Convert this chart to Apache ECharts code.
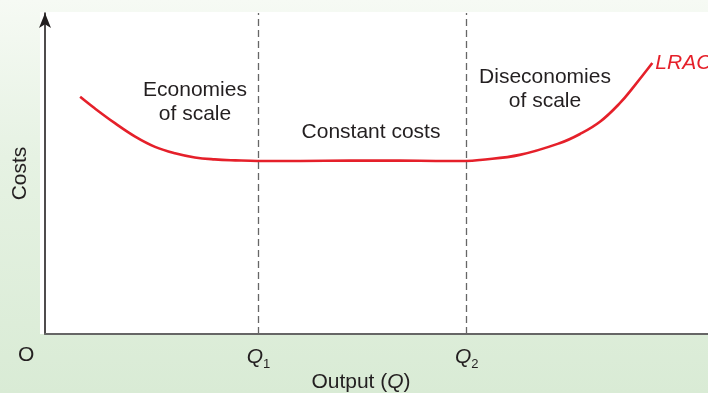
<!DOCTYPE html>
<html><head><meta charset="utf-8">
<script src="https://cdn.jsdelivr.net/npm/echarts@6/dist/echarts.min.js"></script>
<style>
html,body{margin:0;padding:0;}
#c{width:708px;height:393px;background:linear-gradient(180deg,#f6faf4 0%,#e6f2e3 40%,#d9ebd5 100%);}
</style>
</head><body><div id="c"></div>
<script>
// Output (x, 0-100 scale) and long-run average cost (y, 0-100 scale)
const outputX = [5.3, 7.5, 10.6, 13.6, 16.6, 19.6, 22.6, 25.6, 28.7, 32.1, 38.5, 46.0, 53.5, 59.6, 63.5, 65.6, 71.6, 77.7, 80.7, 83.7, 86.7, 88.9, 91.6];
const lracCost = [73.9, 70.3, 65.6, 61.5, 58.3, 56.3, 55.0, 54.4, 54.1, 53.9, 53.9, 54.0, 54.0, 53.9, 53.9, 54.2, 55.8, 59.5, 62.3, 66.1, 71.9, 77.3, 84.4];
const qValues = [32.2, 63.6];
const qSubscripts = ['1', '2'];
const curveName = 'LRAC';
const xTitle = 'Output (Q)';
const yTitle = 'Costs';
const originLabel = 'O';
const regionLabels = ['Economies\nof scale', 'Constant costs', 'Diseconomies\nof scale'];

const chart = echarts.init(document.getElementById('c'), null, {renderer: 'canvas'});
const FONT = '"Liberation Sans", Arial, Helvetica, sans-serif';
const TXT = '#231f20';

const option = {
  backgroundColor: 'transparent',
  animation: false,
  grid: {left: 45, right: 0, top: 13, bottom: 59, containLabel: false, outerBoundsMode: 'none'},
  xAxis: {
    type: 'value', min: 0, max: 100,
    name: '{n|Output (}{i|Q}{n|)}',
    nameLocation: 'middle', nameGap: 38, nameMoveOverlap: false,
    nameTextStyle: {
      padding: [0, 31, 0, 0],
      rich: {
        n: {fontFamily: FONT, fontSize: 21, color: TXT},
        i: {fontFamily: FONT, fontSize: 21, color: TXT, fontStyle: 'italic'}
      }
    },
    axisLine: {show: true, lineStyle: {color: '#666666', width: 2}},
    axisTick: {show: false},
    splitLine: {show: false},
    axisLabel: {
      show: true,
      customValues: qValues,
      margin: 13,
      formatter: function (v) {
        const idx = qValues.indexOf(v);
        return '{q|Q}{s|' + qSubscripts[idx] + '}';
      },
      rich: {
        q: {fontFamily: FONT, fontSize: 21, color: TXT, fontStyle: 'italic', verticalAlign: 'bottom'},
        s: {fontFamily: FONT, fontSize: 13, color: TXT, verticalAlign: 'bottom', padding: [0, 0, -3, 0]}
      }
    }
  },
  yAxis: {
    type: 'value', min: 0, max: 100,
    name: yTitle, nameLocation: 'middle', nameGap: 14,
    nameTextStyle: {fontFamily: FONT, fontSize: 21, color: TXT},
    axisLine: {show: true, symbol: ['none', 'arrow'], symbolSize: [9, 15], symbolOffset: [0, 0], lineStyle: {color: '#231f20', width: 1.6}},
    axisTick: {show: false},
    splitLine: {show: false},
    axisLabel: {show: false}
  },
  graphic: [
    {type: 'rect', z: -10, silent: true, shape: {x: 40, y: 12, width: 668, height: 322}, style: {fill: '#ffffff'}},
    {type: 'text', left: 18, top: 345, silent: true, style: {text: originLabel, font: '21px ' + FONT, fill: TXT}},
    {type: 'text', x: 195, y: 102, silent: true, style: {text: regionLabels[0], font: '21px ' + FONT, fill: TXT, align: 'center', verticalAlign: 'middle', lineHeight: 24}},
    {type: 'text', x: 371, y: 132, silent: true, style: {text: regionLabels[1], font: '21px ' + FONT, fill: TXT, align: 'center', verticalAlign: 'middle'}},
    {type: 'text', x: 545, y: 89, silent: true, style: {text: regionLabels[2], font: '21px ' + FONT, fill: TXT, align: 'center', verticalAlign: 'middle', lineHeight: 24}}
  ],
  series: [{
    name: curveName,
    type: 'line',
    data: outputX.map((x, i) => [x, lracCost[i]]),
    smooth: 0.4,
    showSymbol: false,
    lineStyle: {color: '#e5202a', width: 2.6},
    endLabel: {
      show: true, formatter: curveName, distance: 3,
      fontFamily: FONT, fontSize: 21, fontStyle: 'italic', color: '#e5202a'
    },
    markLine: {
      silent: true, symbol: ['none', 'none'],
      label: {show: false},
      lineStyle: {color: '#666666', type: [7, 4], width: 1.3},
      data: qValues.map(q => ({xAxis: q}))
    }
  }]
};
chart.setOption(option);
</script>
</body></html>
